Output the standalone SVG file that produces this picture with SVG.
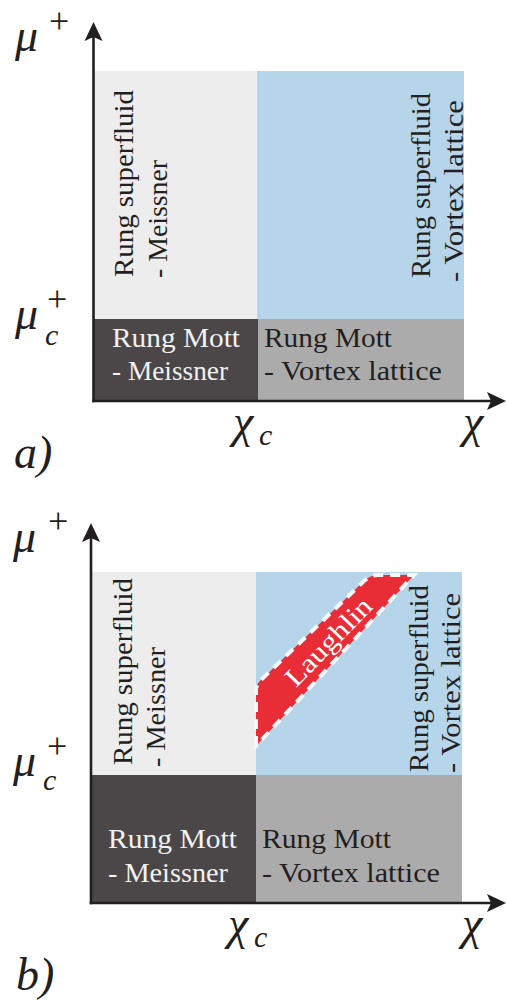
<svg xmlns="http://www.w3.org/2000/svg" width="507" height="1000" viewBox="0 0 507 1000" font-family="'Liberation Serif', 'Times New Roman', serif">
<style>
.lbl{font-family:'Liberation Serif','Times New Roman',serif;font-size:27px;}
.dk{fill:#231f20;}
.lt{fill:#f2f2f2;}
.math{font-family:'Liberation Serif','Times New Roman',serif;font-style:italic;font-size:46px;fill:#231f20;}
.sup{font-style:normal;font-size:36px;}
.sub{font-size:30px;}
.axis{stroke:#231f20;stroke-width:2.6;fill:none;}
.r-light{fill:#ededed;}
.r-blue{fill:#b7d5ea;}
.r-dark{fill:#4b4748;}
.r-mid{fill:#ababab;}
</style>
<defs>
<marker id="ah" viewBox="-20 -10 21 20" markerWidth="21" markerHeight="20" markerUnits="userSpaceOnUse" refX="-14" refY="0" orient="auto">
<path d="M0,0 L-19,-9 L-15,0 L-19,9 Z" fill="#231f20"/>
</marker>
</defs>

<!-- Panel a -->
<g id="a-rung-superfluid-meissner">
<rect class="r-light" x="94" y="71" width="164" height="248"/>
<text class="lbl dk" transform="translate(133,277) rotate(-90)" textLength="187" lengthAdjust="spacingAndGlyphs">Rung superfluid</text>
<text class="lbl dk" transform="translate(167,278) rotate(-90)" textLength="118" lengthAdjust="spacingAndGlyphs">- Meissner</text>
</g>
<g id="a-rung-superfluid-vortex">
<rect class="r-blue" x="258" y="71" width="206" height="248"/>
<line x1="258" y1="71" x2="258" y2="319" stroke="#9fc2dc" stroke-width="1"/>
<text class="lbl dk" transform="translate(430,278) rotate(-90)" textLength="185" lengthAdjust="spacingAndGlyphs">Rung superfluid</text>
<text class="lbl dk" transform="translate(463,282) rotate(-90)" textLength="182" lengthAdjust="spacingAndGlyphs">- Vortex lattice</text>
</g>
<g id="a-rung-mott-meissner">
<rect class="r-dark" x="94" y="319" width="164" height="82"/>
<text class="lbl lt" x="112" y="347" textLength="128" lengthAdjust="spacingAndGlyphs">Rung Mott</text>
<text class="lbl lt" x="112" y="380" textLength="116" lengthAdjust="spacingAndGlyphs">- Meissner</text>
</g>
<g id="a-rung-mott-vortex">
<rect class="r-mid" x="258" y="319" width="206" height="82"/>
<text class="lbl dk" x="264" y="347" textLength="128" lengthAdjust="spacingAndGlyphs">Rung Mott</text>
<text class="lbl dk" x="264" y="380" textLength="178" lengthAdjust="spacingAndGlyphs">- Vortex lattice</text>
</g>

<!-- Panel b -->
<g id="b-rung-superfluid-meissner">
<rect class="r-light" x="91" y="572" width="165" height="203"/>
<text class="lbl dk" transform="translate(132,765) rotate(-90)" textLength="187" lengthAdjust="spacingAndGlyphs">Rung superfluid</text>
<text class="lbl dk" transform="translate(165,767) rotate(-90)" textLength="120" lengthAdjust="spacingAndGlyphs">- Meissner</text>
</g>
<g id="b-rung-superfluid-vortex">
<rect class="r-blue" x="256" y="572" width="206" height="203"/>
<text class="lbl dk" transform="translate(428,772) rotate(-90)" textLength="187" lengthAdjust="spacingAndGlyphs">Rung superfluid</text>
<text class="lbl dk" transform="translate(460,773) rotate(-90)" textLength="180" lengthAdjust="spacingAndGlyphs">- Vortex lattice</text>
</g>
<g id="b-laughlin">
<path d="M256,746 L256,689 Q257,683 262,679 L362,583 Q369,575 378,575 L414,575 Z" fill="#e82d37" stroke="#f4f6f8" stroke-width="4" stroke-dasharray="10,7"/>
<text class="lbl" fill="#ffffff" font-size="26" text-anchor="middle" transform="translate(335,648) rotate(-46)" textLength="112" lengthAdjust="spacingAndGlyphs">Laughlin</text>
</g>
<g id="b-rung-mott-meissner">
<rect class="r-dark" x="91" y="775" width="165" height="128"/>
<text class="lbl lt" x="108" y="848" textLength="129" lengthAdjust="spacingAndGlyphs">Rung Mott</text>
<text class="lbl lt" x="108" y="882" textLength="120" lengthAdjust="spacingAndGlyphs">- Meissner</text>
</g>
<g id="b-rung-mott-vortex">
<rect class="r-mid" x="256" y="775" width="206" height="128"/>
<text class="lbl dk" x="262" y="848" textLength="129" lengthAdjust="spacingAndGlyphs">Rung Mott</text>
<text class="lbl dk" x="262" y="882" textLength="178" lengthAdjust="spacingAndGlyphs">- Vortex lattice</text>
</g>

<!-- Axes -->
<g id="connectors">
<line class="axis" x1="93.5" y1="402.3" x2="93.5" y2="36" marker-end="url(#ah)"/>
<line class="axis" x1="92.2" y1="401" x2="492" y2="401" marker-end="url(#ah)"/>
<line class="axis" x1="91" y1="904.3" x2="91" y2="537" marker-end="url(#ah)"/>
<line class="axis" x1="89.7" y1="903" x2="492" y2="903" marker-end="url(#ah)"/>
</g>

<!-- Axis labels a -->
<g id="a-labels">
<text class="math" x="15" y="51">μ<tspan class="sup" x="49" y="33">+</tspan></text>
<text class="math" x="15" y="329">μ<tspan class="sup" x="47" y="311">+</tspan><tspan class="sub" x="45" y="345">c</tspan></text>
<text class="math" x="233" y="437">χ<tspan class="sub" x="259" y="445">c</tspan></text>
<text class="math" x="463" y="437">χ</text>
<text class="math" x="14" y="468">a)</text>
</g>
<g id="b-labels">
<text class="math" x="13" y="552">μ<tspan class="sup" x="48" y="533">+</tspan></text>
<text class="math" x="13" y="776">μ<tspan class="sup" x="47" y="758">+</tspan><tspan class="sub" x="43" y="790">c</tspan></text>
<text class="math" x="228" y="939">χ<tspan class="sub" x="254" y="947">c</tspan></text>
<text class="math" x="462" y="939">χ</text>
<text class="math" x="16" y="990">b)</text>
</g>
</svg>
